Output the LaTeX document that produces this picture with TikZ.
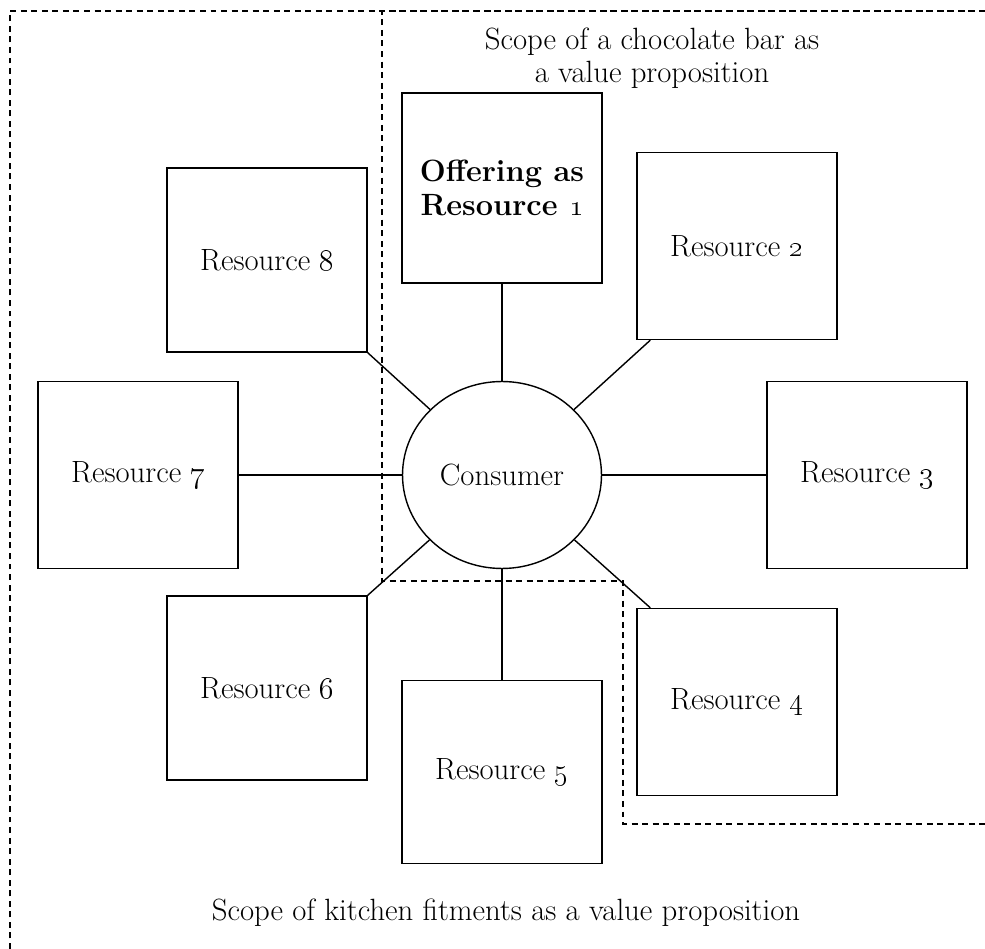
\documentclass[tikz,border=0pt]{standalone}
\usepackage{tikz}
\usetikzlibrary{positioning,shapes.geometric,calc}

\begin{document}
\begin{tikzpicture}[x=0.02cm, y=-0.02cm,
    res/.style={rectangle, draw, line width=0.8pt, minimum width=4cm, minimum height=3.74cm, align=center, font=\fontsize{17.5}{19}\selectfont},
    link/.style={line width=0.8pt},
    note/.style={align=center, font=\fontsize{17.5}{19}\selectfont},
    scopeline/.style={line width=0.8pt, dash pattern=on 3.4pt off 2.6pt}]
  \useasboundingbox (0,0) rectangle (985,949);
  % scopes
  \draw[scopeline] (10,949) -- (10,11) -- (985,11);
  \draw[scopeline] (985,11) -- (382,11) -- (382,581) -- (623,581) -- (623,824) -- (985,824);
  \node[note] (choc) at (652,58) {Scope of a chocolate bar as\\a value proposition};
  \node[note] (kit) at (506,913) {Scope of kitchen fitments as a value proposition};
  % consumer and resources
  \node[ellipse, draw, line width=0.8pt, minimum width=3.98cm, minimum height=3.74cm, font=\fontsize{17.5}{19}\selectfont] (cons) at (502,475) {Consumer};
  \node[res, minimum height=3.8cm, font=\fontsize{17.5}{19}\selectfont\bfseries] (r1) at (502,188) {Offering as\\Resource \oldstylenums{1}};
  \node[res] (r2) at (737,246) {Resource \oldstylenums{2}};
  \node[res] (r3) at (867,475) {Resource \oldstylenums{3}};
  \node[res] (r4) at (737,702) {Resource \oldstylenums{4}};
  \node[res, minimum height=3.66cm] (r5) at (502,772) {Resource \oldstylenums{5}};
  \node[res, minimum height=3.68cm] (r6) at (267,688) {Resource \oldstylenums{6}};
  \node[res] (r7) at (138,475) {Resource \oldstylenums{7}};
  \node[res, minimum height=3.68cm] (r8) at (267,260) {Resource \oldstylenums{8}};
  % links
  \draw[link] (cons) -- (r1);
  \draw[link] (cons) -- ($(r2.south west)+(14,0)$);
  \draw[link] (cons) -- (r3);
  \draw[link] (cons) -- ($(r4.north west)+(14,0)$);
  \draw[link] (cons) -- (r5);
  \draw[link] (cons) -- (r6.north east);
  \draw[link] (cons) -- (r7);
  \draw[link] (cons) -- (r8.south east);
\end{tikzpicture}
\end{document}
